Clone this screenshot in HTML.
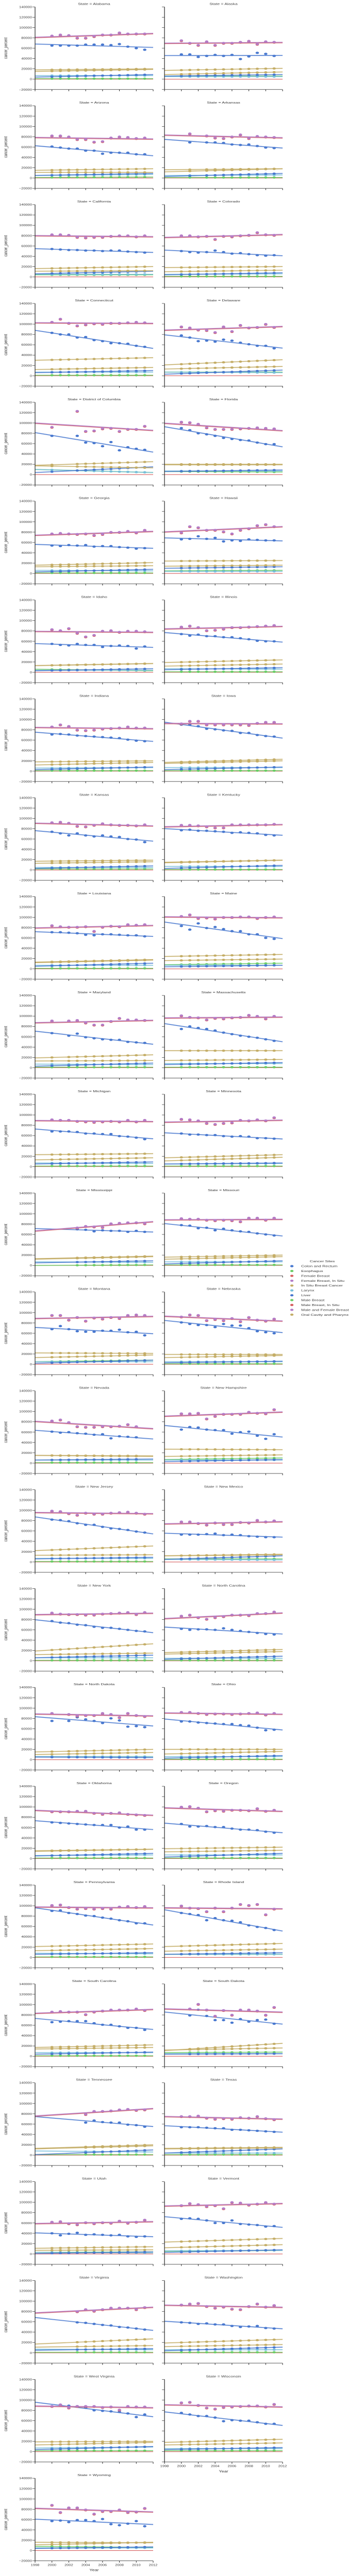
<!DOCTYPE html>
<html><head><meta charset="utf-8">
<style>
html,body{margin:0;padding:0;background:#fff;width:100%;height:100%;overflow:hidden;}
svg{position:fixed;left:0;top:0;display:block;width:100vw;height:100vh;font-family:"Liberation Sans",Arial,sans-serif;}
</style></head><body>
<svg id="chart" viewBox="0 0 702 7482" preserveAspectRatio="none" xmlns="http://www.w3.org/2000/svg"></svg>
<script>
const states=["Alabama","Alaska","Arizona","Arkansas","California","Colorado","Connecticut","Delaware","District of Columbia","Florida","Georgia","Hawaii","Idaho","Illinois","Indiana","Iowa","Kansas","Kentucky","Louisiana","Maine","Maryland","Massachusetts","Michigan","Minnesota","Mississippi","Missouri","Montana","Nebraska","Nevada","New Hampshire","New Jersey","New Mexico","New York","North Carolina","North Dakota","Ohio","Oklahoma","Oregon","Pennsylvania","Rhode Island","South Carolina","South Dakota","Tennessee","Texas","Utah","Vermont","Virginia","Washington","West Virginia","Wisconsin","Wyoming"];
const years=[2000,2001,2002,2003,2004,2005,2006,2007,2008,2009,2010,2011];
const yTicks=[-20000,0,20000,40000,60000,80000,100000,120000,140000];
const xTicks=[1998,2000,2002,2004,2006,2008,2010,2012];
const legendLabels=["Colon and Rectum","Esophagus","Female Breast","Female Breast, In Situ","In Situ Breast Cancer","Larynx","Liver","Male Breast","Male Breast, In Situ","Male and Female Breast","Oral Cavity and Pharynx"];
const breast=[
[84,86,85,80,80,83,86,86,90,88,88,88],[75,70,66,73,66,70,70,72,74,68,73,72],[82,82,80,75,75,70,71,78,80,79,77,78],[null,86,null,82,78,77,80,84,77,81,80,79],
[82,82,81,77,76,77,77,79,80,80,78,80],[80,80,78,79,73,79,78,80,81,86,82,81],[104,110,102,97,99,101,100,102,102,103,104,103],[95,93,89,88,84,95,86,98,93,94,100,94],
[92,null,null,123,84,85,89,90,84,88,88,94],[102,101,98,91,88,88,88,89,90,91,90,89],[77,78,77,76,77,74,76,80,80,82,79,84],[79,91,89,84,84,81,77,84,87,93,95,91],
[83,81,85,76,69,72,80,81,78,80,80,79],[88,90,87,81,82,84,87,87,88,89,90,91],[86,90,87,80,79,80,82,83,84,86,84,84],[92,97,97,90,90,90,90,90,89,93,95,95],
[92,93,91,85,84,87,90,88,87,87,86,88],[87,87,86,84,82,82,88,88,88,88,88,89],[84,82,81,81,82,73,81,83,82,86,85,86],[102,105,98,99,97,100,100,101,101,98,100,101],
[91,null,91,92,87,83,83,90,96,93,93,92],[101,98,97,93,96,95,97,98,102,100,95,100],[91,90,90,88,87,86,87,88,87,90,87,90],[92,91,89,84,82,84,85,90,89,91,89,95],
[null,null,null,73,76,75,74,81,82,83,83,81],[91,90,90,88,87,88,87,85,92,92,88,92],[95,95,86,91,84,90,88,91,89,95,96,95],[92,96,95,85,87,85,89,83,91,86,84,88],
[82,84,79,71,70,70,71,71,72,75,71,null],[96,96,97,86,91,95,95,95,99,97,96,104],[99,98,94,91,95,93,93,95,96,97,95,93],[78,78,75,72,76,73,73,77,76,81,78,80],
[93,91,90,90,89,89,91,92,93,94,90,94],[87,89,84,81,84,86,89,89,88,92,92,95],[90,null,88,85,86,86,90,88,82,90,86,84],[92,92,90,88,89,89,88,89,90,91,87,90],
[91,91,91,92,92,88,86,88,89,86,85,84],[100,101,98,91,93,92,94,94,93,97,92,94],[101,102,97,94,95,94,95,94,98,99,97,99],[100,96,95,89,96,89,96,103,101,103,83,94],
[86,87,86,86,81,86,88,90,90,90,92,89],[null,92,101,90,78,89,80,90,90,88,80,95],[null,null,null,null,79,85,85,86,88,89,87,88],[75,75,76,72,70,71,70,73,72,75,71,69],
[62,63,59,57,61,59,61,60,64,60,62,66],[94,98,96,92,94,88,100,99,95,97,100,97],[null,null,null,80,84,81,84,87,87,87,84,88],[93,95,96,90,87,89,85,84,90,95,89,92],
[88,91,85,88,88,88,86,87,81,88,87,87],[95,96,90,85,83,86,87,88,89,89,87,92],[88,74,83,83,79,71,76,76,79,74,75,82]];
const colon=[
[65,65,65,65,67,67,67,66,68,63,60,57],[48,48,43,45,47,45,47,39,44,51,49,45],[61,59,57,57,53,53,47,49,49,49,46,46],[null,69,null,69,69,68,65,64,65,62,59,58],
[54,53,52,52,51,51,50,51,51,49,48,47],[50,48,47,48,51,48,45,46,44,42,41,42],[83,80,80,74,75,69,67,63,63,62,58,56],[78,74,67,68,66,70,68,64,61,58,58,53],
[75,null,null,75,62,61,55,63,47,53,50,48],[90,86,80,78,75,71,69,67,66,62,59,59],[54,53,55,54,55,52,53,53,51,50,48,49],[66,67,72,67,69,62,64,63,66,65,64,64],
[55,53,52,55,53,53,49,51,52,51,46,50],[74,71,73,70,70,68,68,66,64,61,60,60],[71,72,71,69,68,67,66,65,64,61,59,58],[90,90,87,82,81,79,78,74,74,70,68,67],
[74,71,67,71,67,65,67,65,64,60,59,54],[77,78,76,76,75,74,72,73,72,71,68,67],[71,71,70,69,66,65,67,67,66,65,65,63],[83,76,88,79,81,77,73,73,67,67,60,58],
[67,null,62,66,59,57,55,54,54,50,49,48],[75,80,77,75,72,68,65,62,60,58,55,52],[68,68,68,67,64,64,63,63,59,58,56,53],[64,62,62,61,61,59,58,59,58,55,55,54],
[null,null,null,70,69,66,68,67,67,65,67,65],[78,77,72,73,68,71,68,66,65,62,60,58],[68,74,68,64,63,63,65,65,67,62,63,56],[81,78,76,76,72,78,75,75,70,64,62,60],
[61,59,60,58,57,55,56,48,52,51,50,null],[65,70,69,65,64,64,57,60,61,53,47,56],[82,81,79,75,72,72,68,65,64,62,59,57],[53,53,53,54,55,52,53,52,50,49,48,48],
[77,74,73,70,69,66,64,64,62,60,58,57],[62,60,61,61,60,63,60,58,56,54,52,51],[75,null,75,82,78,75,71,80,76,64,65,63],[74,74,72,71,70,69,69,67,66,62,57,58],
[70,69,68,67,66,65,65,65,60,62,56,56],[67,62,62,63,61,61,58,56,56,55,52,50],[90,91,86,84,81,80,77,75,72,70,66,66],[86,84,82,72,76,72,71,68,62,59,57,53],
[66,67,68,68,68,64,61,61,58,55,55,51],[null,79,90,78,70,70,65,72,67,70,71,63],[null,null,null,null,63,67,64,63,63,59,58,55],[54,54,54,53,52,52,49,49,48,47,46,45],
[40,36,39,41,37,38,37,36,37,34,33,34],[68,69,68,65,60,60,65,58,57,56,53,54],[null,null,null,59,58,56,54,53,50,49,47,45],[59,58,56,57,55,55,52,50,51,52,48,47],
[88,91,89,88,85,80,79,78,77,74,67,72],[75,72,69,69,66,59,61,60,60,57,54,54],[57,58,55,59,59,57,61,51,49,52,57,47]];
const inSitu=[[18,20],[17,21],[15,18],[16,18],[16,20],[18,20],[30,35],[21,31],[18,25],[20,20],[16,21],[24,25],[13,17],[19,24],[18,20],[17,23],[17,19],[15,19],[13,18],[24,28],[19,25],[33,33],[23,25],[17,23],[13,18],[16,20],[22,21],[19,19],[15,14],[27,26],[22,31],[12,15],[19,33],[16,22],[15,20],[20,20],[14,18],[19,22],[21,26],[21,27],[17,22],[11,25],[13,20],[13,15],[11,14],[23,30],[17,27],[19,26],[19,20],[18,24],[16,15]];
const oral=[[15,19],[9,14],[11,11],[12,18],[11,12],[10,13],[12,16],[13,18],[17,13],[19,19],[13,15],[14,16],[13,17],[12,16],[12,17],[15,20],[13,16],[14,19],[12,17],[16,19],[13,14],[14,16],[13,17],[11,18],[12,17],[12,17],[13,18],[13,17],[15,13],[13,16],[13,14],[12,14],[12,15],[13,18],[10,14],[11,16],[15,18],[13,16],[13,17],[12,16],[14,17],[12,16],[12,18],[12,14],[7,8],[12,18],[11,14],[12,16],[13,18],[13,17],[11,16]];
const liver=[[4,9],[6,9],[5,9],[3,9],[6,11],[4,8],[6,10],[3,11],[4,15],[6,9],[3,8],[10,13],[3,7],[5,9],[3,8],[3,8],[3,8],[3,9],[5,11],[4,7],[3,9],[6,10],[5,9],[5,7],[5,9],[3,9],[2,8],[3,6],[6,8],[3,7],[6,9],[5,12],[6,11],[3,9],[5,4],[3,8],[5,10],[3,10],[6,9],[6,9],[4,8],[4,5],[1,10],[4,12],[1,4],[3,8],[5,8],[4,11],[4,10],[4,8],[4,7]];
const larynx=[[7,7],[5,5],[5,7],[5,6],[5,5],[5,6],[7,7],[7,6],[10,4],[7,7],[6,5],[4,4],[4,4],[7,6],[6,7],[7,7],[5,5],[7,7],[7,7],[7,7],[7,6],[8,8],[7,6],[5,6],[7,6],[7,7],[5,5],[5,5],[6,6],[6,6],[7,7],[5,4],[6,6],[5,5],[6,6],[6,6],[6,7],[7,7],[8,7],[6,6],[7,7],[5,5],[8,6],[4,4],[3,2],[6,7],[7,6],[6,6],[7,9],[6,6],[5,5]];
const esoph=[[1,1],[6,6],[1,2],[1,1],[4,4],[1,1],[1,1],[7,7],[10,4],[6,5],[1,1],[5,6],[6,3],[1,1],[1,1],[1,1],[2,2],[1,1],[1,1],[8,11],[1,1],[1,1],[1,1],[1,1],[0,1],[1,1],[5,8],[1,1],[1,1],[7,10],[1,1],[6,6],[1,1],[1,1],[6,6],[1,1],[1,1],[1,1],[1,1],[6,6],[1,1],[7,8],[1,1],[1,1],[3,4],[5,7],[1,1],[1,1],[2,2],[2,2],[8,6]];

const C={blue:"#4878CF",green:"#6ACC65",red:"#D65F5F",purple:"#B47CC7",tan:"#C4AD66",cyan:"#77BEDB"};
const legendColors=[C.blue,C.green,C.red,C.purple,C.tan,C.cyan,C.blue,C.green,C.red,C.purple,C.tan];
const svg=document.getElementById('chart');
const NS="http://www.w3.org/2000/svg";
function mk(tag,attrs,parent){const e=document.createElementNS(NS,tag);for(const k in attrs)e.setAttribute(k,attrs[k]);(parent||svg).appendChild(e);return e;}
const PITCH=287.12, AX_TOP=20, AX_H=240, AX_W=229, COLX=[68,319];
function fit(xs,ys){let n=0,sx=0,sy=0,sxx=0,sxy=0;for(let i=0;i<xs.length;i++){if(ys[i]==null)continue;n++;sx+=xs[i];sy+=ys[i];sxx+=xs[i]*xs[i];sxy+=xs[i]*ys[i];}
 const b=(n*sxy-sx*sy)/(n*sxx-sx*sx)||0;const a=(sy-b*sx)/n;return x=>a+b*x;}

states.forEach((st,i)=>{
 const row=Math.floor(i/2), col=i%2;
 const top=AX_TOP+row*PITCH, left=COLX[col], bottom=top+AX_H;
 const X=yr=>left+(yr-1998)/(2012-1998)*AX_W;
 const Y=v=>bottom-(v+20000)/160000*AX_H;
 const g=mk('g',{});
 
 
 const t=mk('text',{x:left+AX_W/2,y:top-6,'text-anchor':'middle','font-size':'8.5',fill:'#333'},g);t.textContent='State = '+st;
 
 
 yTicks.forEach(v=>{mk('line',{x1:left-5,x2:left,y1:Y(v),y2:Y(v),stroke:'#222','stroke-width':1},g);
  if(col===0){const l=mk('text',{x:left-6,y:Y(v)+3,'text-anchor':'end','font-size':'7.5',fill:'#333'},g);l.textContent=v<0?'\u2212'+(-v):String(v);
   
   }});
 if(col===0){const yl=mk('text',{x:0,y:0,transform:`translate(14,${top+AX_H/2}) rotate(-90)`,'text-anchor':'middle','font-size':'9',fill:'#333'},g);yl.textContent='cancer_percent';
  
  }
 xTicks.forEach(v=>mk('line',{x1:X(v),x2:X(v),y1:bottom,y2:bottom+5,stroke:'#222','stroke-width':1},g));
 const last=(col===0&&i===50)||(col===1&&i===49);
 if(last){xTicks.forEach(v=>{const l=mk('text',{x:X(v),y:bottom+15,'text-anchor':'middle','font-size':'7.5',fill:'#333'},g);l.textContent=v;
   
   });
  const xl=mk('text',{x:left+AX_W/2,y:bottom+30,'text-anchor':'middle','font-size':'9',fill:'#333'},g);xl.textContent='Year';
  
  }
 const present=breast[i].map(v=>v!=null);
 function drawLine(f,color,name){mk('line',{x1:X(1998),y1:Y(f(1998)),x2:X(2012),y2:Y(f(2012)),stroke:color,'stroke-width':4,'stroke-opacity':0.25},g);
  const ln=mk('line',{x1:X(1998),y1:Y(f(1998)),x2:X(2012),y2:Y(f(2012)),stroke:color,'stroke-width':1.8},g);
  
  }
 function drawPair(pair,color,name){const f=yr=>(pair[0]+(pair[1]-pair[0])*(yr-1998)/14)*1000;
  drawLine(f,color,name);
  years.forEach((yr,k)=>{if(!present[k])return;const c=mk('circle',{cx:X(yr),cy:Y(f(yr)),r:3.2,fill:color},g);
   
   });}
 function drawSeries(vals,color,name,off){const ys=vals.map(v=>v==null?null:(v+off)*1000);const f=fit(years,ys);
  drawLine(f,color,name);
  years.forEach((yr,k)=>{if(ys[k]==null)return;const c=mk('circle',{cx:X(yr),cy:Y(ys[k]),r:3.3,fill:color},g);
   
   });}
 mk('line',{x1:X(1998),y1:Y(0),x2:X(2012),y2:Y(0),stroke:C.red,'stroke-width':1.6},g);
 drawPair(esoph[i],C.green,'esophagus');
 drawPair(larynx[i],C.cyan,'larynx');
 drawPair(liver[i],C.blue,'liver');
 drawPair(oral[i],C.tan,'oral-cavity');
 drawPair(inSitu[i],C.tan,'in-situ-breast');
 drawSeries(colon[i],C.blue,'colon-rectum',0);
 drawSeries(breast[i],C.red,'female-breast',-1);
 drawSeries(breast[i],C.purple,'male-female-breast',0);
 mk('line',{x1:left,x2:left,y1:top,y2:bottom,stroke:'#222','stroke-width':1.2},g);
 mk('line',{x1:left,x2:left+AX_W,y1:bottom,y2:bottom,stroke:'#222','stroke-width':1.2},g);
});
const lg=mk('g',{});


const lt=mk('text',{x:625,y:3666,'text-anchor':'middle','font-size':'8.5',fill:'#333'},lg);lt.textContent='Cancer Sites';


legendLabels.forEach((lab,k)=>{const y=3677.5+k*14.1;
 const e=mk('g',{},lg);
 
 
 mk('circle',{cx:566,cy:y,r:3.2,fill:legendColors[k]},e);
 const tx=mk('text',{x:584,y:y+3,'font-size':'8.5',fill:'#333'},e);tx.textContent=lab;});
</script>
</body></html>
